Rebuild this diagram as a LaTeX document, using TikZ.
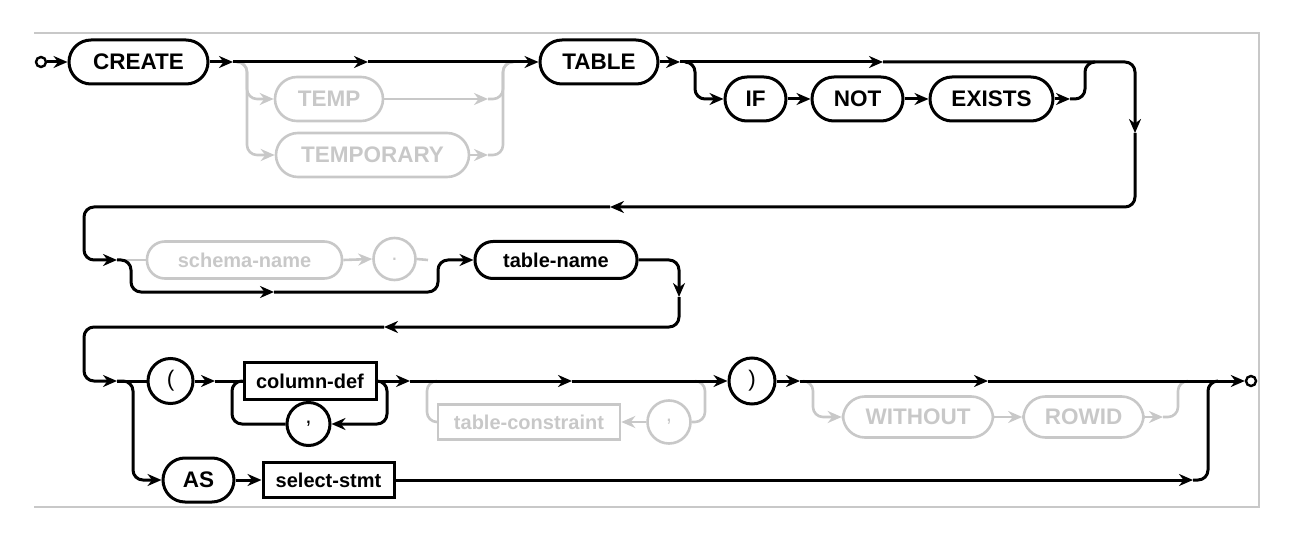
\documentclass[tikz,border=0pt]{standalone}
\usepackage{fontspec}
\setmainfont{Liberation Sans}
\usetikzlibrary{arrows.meta}
\definecolor{optgray}{RGB}{200,200,200}

\begin{document}
\begin{tikzpicture}[x=1pt, y=-1pt,
    ln/.style={line width=3pt, rounded corners=10pt},
    arr/.style={ln, -{Stealth[length=14pt, width=12pt]}},
    ghost/.style={optgray, line width=2.6pt},
    kw/.style={draw, line width=3pt, rounded corners=22pt, minimum height=44pt, inner sep=0pt,
      font=\fontsize{22.5}{25}\selectfont\bfseries},
    nm/.style={kw, rounded corners=18pt, minimum height=37pt, font=\fontsize{20}{22}\selectfont\bfseries},
    rulebox/.style={draw, line width=3pt, minimum height=37pt, inner sep=0pt,
      font=\fontsize{20}{22}\selectfont\bfseries},
    punct/.style={draw, circle, line width=3pt, minimum size=44pt, inner sep=0pt,
      font=\fontsize{22.5}{25}\selectfont},
    term/.style={draw, circle, fill=white, line width=2.4pt, minimum size=10pt, inner sep=0pt}]
  \useasboundingbox (0,0) rectangle (1307,540);
  \draw[optgray, line width=1.5pt] (34,33) -- (1259,33) -- (1259,507) -- (34,507);

  % row 1
  \node[term] (start) at (41,62) {};
  \node[kw, minimum width=139pt] (create) at (138.5,62) {CREATE};
  \node[kw, ghost, minimum width=108pt] (temp) at (329,99) {TEMP};
  \node[kw, ghost, minimum width=193pt] (temporary) at (372.5,155) {TEMPORARY};
  \node[kw, minimum width=118pt] (table) at (599,62) {TABLE};
  \node[kw, minimum width=61pt] (if) at (755.5,99) {IF};
  \node[kw, minimum width=91pt] (not) at (857.5,99) {NOT};
  \node[kw, minimum width=123pt] (exists) at (991.5,99) {EXISTS};

  % row 2
  \node[nm, ghost, minimum width=195pt] (schema) at (244.5,260) {schema-name};
  \node[punct, ghost, minimum size=42pt] (dot) at (394.5,259) {.};
  \node[nm, minimum width=162pt] (tname) at (556,260) {table-name};

  % row 3
  \node[punct, minimum size=45pt] (lparen) at (170.5,381) {(};
  \node[rulebox, minimum width=132pt] (coldef) at (310,381) {column-def};
  \node[punct, minimum size=43pt] (comma) at (308.5,424) {,};
  \node[rulebox, ghost, minimum width=182pt, minimum height=35pt] (tcons) at (529,422) {table-constraint};
  \node[punct, ghost, minimum size=43pt] (tcomma) at (669,422) {,};
  \node[punct, minimum size=46pt] (rparen) at (752,381) {)};
  \node[kw, ghost, minimum width=150pt, minimum height=41pt] (without) at (918,417) {WITHOUT};
  \node[kw, ghost, minimum width=120pt, minimum height=41pt] (rowid) at (1083.5,417) {ROWID};
  \node[kw, minimum width=71pt] (as) at (198.5,480) {AS};
  \node[rulebox, minimum width=131pt, minimum height=35pt] (select) at (328.5,480) {select-stmt};
  \node[term] (end) at (1251,381) {};

  \coordinate (a1) at (233,62);
  \coordinate (a2) at (368,62);
  \coordinate (b1) at (237,62);
  \coordinate (m1) at (488,99);
  \coordinate (m2) at (488,155);
  \coordinate (j1) at (513,62);
  \coordinate (a3) at (680,62);
  \coordinate (a4) at (883,62);
  \coordinate (b2) at (685,62);
  \coordinate (m3) at (1070,99);
  \coordinate (j2) at (1095,62);
  \coordinate (d1) at (1135,133);
  \coordinate (r1) at (610,207);
  \coordinate (e2) at (117,260);
  \coordinate (p1) at (274,292);
  \coordinate (g1) at (428,260);
  \coordinate (d2) at (679,297);
  \coordinate (r2) at (384,327);
  \coordinate (e3) at (117,381);
  \coordinate (a5) at (215,381);
  \coordinate (a6) at (410,381);
  \coordinate (a7) at (572,381);
  \coordinate (b4) at (695,381);
  \coordinate (a8) at (800,381);
  \coordinate (a9) at (988,381);
  \coordinate (b5) at (803,381);
  \coordinate (m4) at (1163,417);
  \coordinate (j3) at (1188,381);
  \coordinate (m5) at (1193,480);
  \coordinate (j4) at (1218,381);

  % optional paths
  \draw[arr, ghost] (b1) -| (247,99) -- (temp.west);
  \draw[arr, ghost] (b1) -| (247,155) -- (temporary.west);
  \draw[arr, ghost] (temp.east) -- (m1);
  \draw[arr, ghost] (temporary.east) -- (m2);
  \draw[ln, ghost] (m1) -| (503,62) -- (j1);
  \draw[ln, ghost] (m2) -| (503,62) -- (j1);
  \draw[ln, ghost] (e2) -- (schema.west);
  \draw[arr, ghost] (schema.east) -- (dot.west);
  \draw[ln, ghost] (dot.east) -- (g1);
  \draw[ln, ghost] (tcons.west) -| (427,381) -- (437,381);
  \draw[ln, ghost] (b4) -| (705,422) -- (tcomma.east);
  \draw[arr, ghost] (tcomma.west) -- (tcons.east);
  \draw[arr, ghost] (b5) -| (813,417) -- (without.west);
  \draw[arr, ghost] (without.east) -- (rowid.west);
  \draw[arr, ghost] (rowid.east) -- (m4);
  \draw[ln, ghost] (m4) -| (1178,381) -- (j3);

  % row 1
  \draw[arr] (start) -- (create.west);
  \draw[arr] (create.east) -- (a1);
  \draw[arr] (a1) -- (a2);
  \draw[arr] (a2) -- (table.west);
  \draw[arr] (table.east) -- (a3);
  \draw[arr] (a3) -- (a4);
  \draw[arr] (b2) -| (695,99) -- (if.west);
  \draw[arr] (if.east) -- (not.west);
  \draw[arr] (not.east) -- (exists.west);
  \draw[arr] (exists.east) -- (m3);
  \draw[ln] (m3) -| (1085,62) -- (j2);
  \draw[arr] (a4) -| (d1);
  \draw[arr] (d1) |- (r1);
  \draw[arr] (r1) -| (84,260) -- (e2);

  % row 2
  \draw[arr] (e2) -| (131,292) -- (p1);
  \draw[arr] (p1) -| (438,260) -- (tname.west);
  \draw[arr] (tname.east) -| (d2);
  \draw[arr] (d2) |- (r2);
  \draw[arr] (r2) -| (84,381) -- (e3);

  % row 3
  \draw[ln] (e3) -- (lparen.west);
  \draw[arr] (e3) -| (133,480) -- (as.west);
  \draw[arr] (lparen.east) -- (a5);
  \draw[ln] (a5) -- (coldef.west);
  \draw[arr] (coldef.east) -| (387,424) -- (comma.east);
  \draw[ln] (comma.west) -| (232,381) -- (coldef.west);
  \draw[arr] (coldef.east) -- (a6);
  \draw[arr] (a6) -- (a7);
  \draw[arr] (a7) -- (rparen.west);
  \draw[arr] (rparen.east) -- (a8);
  \draw[arr] (a8) -- (a9);
  \draw[arr] (a9) -- (end.west);
  \draw[arr] (as.east) -- (select.west);
  \draw[arr] (select.east) -- (m5);
  \draw[ln] (m5) -| (1208,381) -- (j4);
\end{tikzpicture}
\end{document}
